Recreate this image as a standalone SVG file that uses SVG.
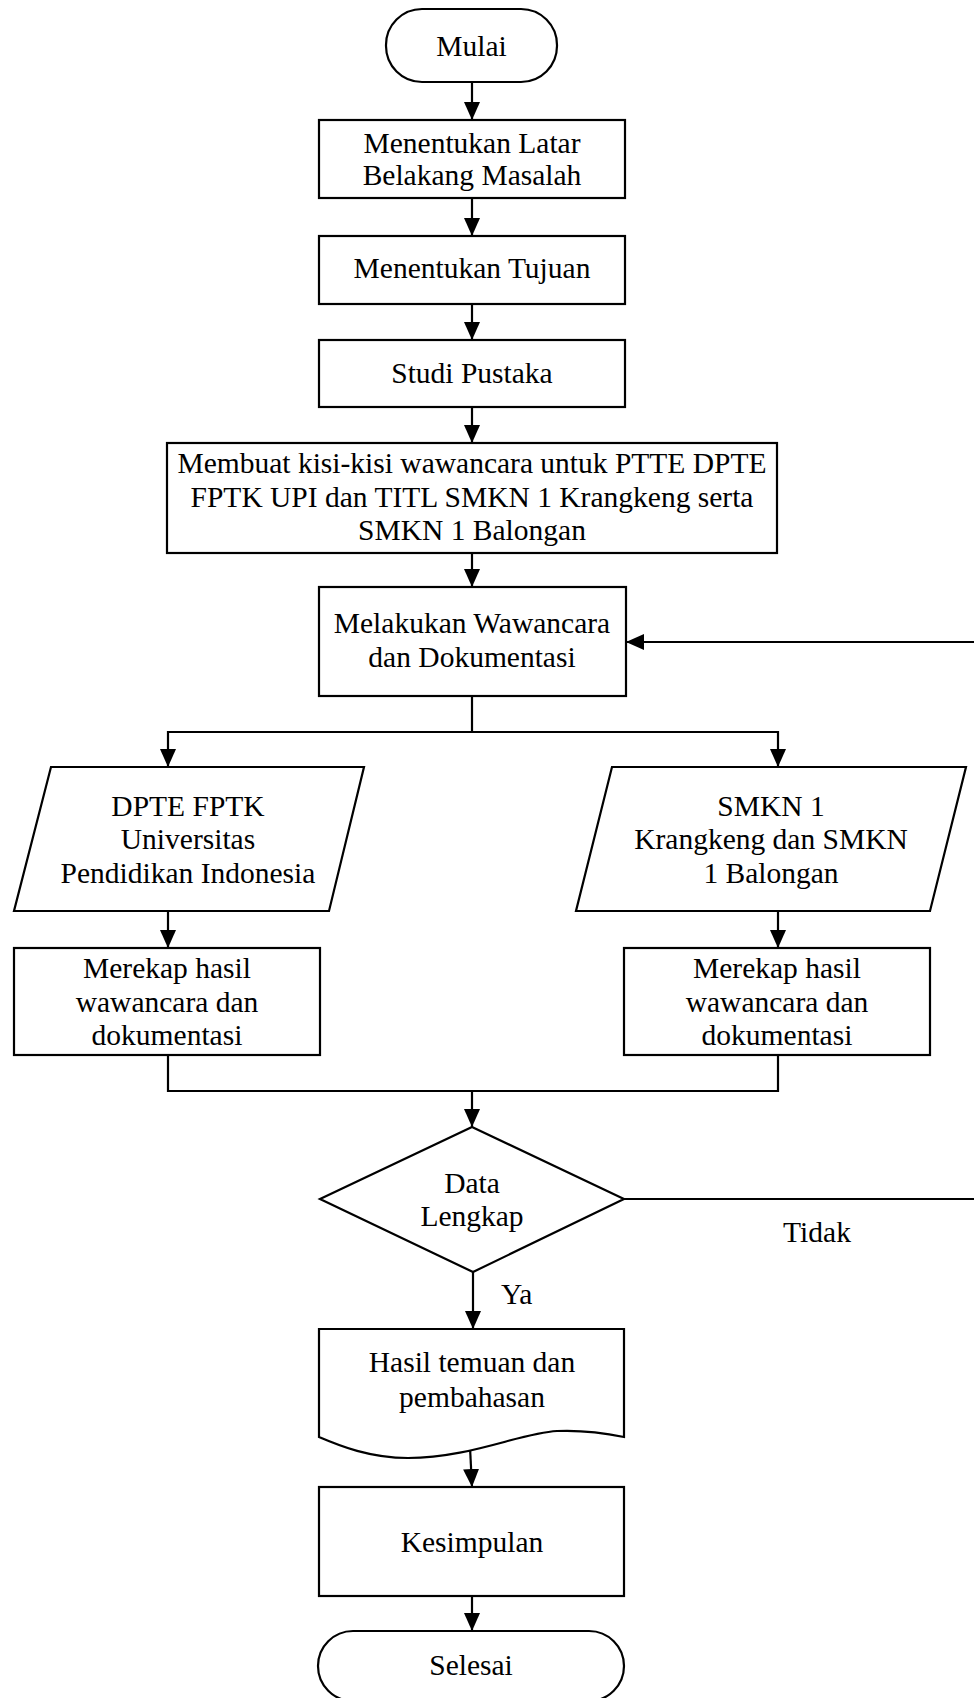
<svg xmlns="http://www.w3.org/2000/svg" width="974" height="1698" viewBox="0 0 974 1698">
<style>
.s{fill:#fff;stroke:#000;stroke-width:2.2}
.c{fill:none;stroke:#000;stroke-width:2.2}
text{font-family:"Liberation Serif","Times New Roman",serif;font-size:29.5px;fill:#000;text-anchor:middle}
</style>
<defs>
<marker id="ah" markerUnits="userSpaceOnUse" markerWidth="18" markerHeight="16" viewBox="0 0 18 16" refX="18" refY="8" orient="auto">
<path d="M0,0 L18,8 L0,16 Z" fill="#000"/>
</marker>
</defs>
<rect width="974" height="1698" fill="#fff"/>
<g id="connectors">
<line class="c" x1="472" y1="82" x2="472" y2="120" marker-end="url(#ah)"/>
<line class="c" x1="472" y1="198" x2="472" y2="236" marker-end="url(#ah)"/>
<line class="c" x1="472" y1="304" x2="472" y2="340" marker-end="url(#ah)"/>
<line class="c" x1="472" y1="407" x2="472" y2="443" marker-end="url(#ah)"/>
<line class="c" x1="472" y1="553" x2="472" y2="587" marker-end="url(#ah)"/>
<path class="c" d="M472,696 V732"/>
<path class="c" d="M472,732 H168 V767" marker-end="url(#ah)"/>
<path class="c" d="M472,732 H778 V767" marker-end="url(#ah)"/>
<line class="c" x1="168" y1="911" x2="168" y2="948" marker-end="url(#ah)"/>
<line class="c" x1="778" y1="911" x2="778" y2="948" marker-end="url(#ah)"/>
<path class="c" d="M168,1055 V1091 H778 V1055"/>
<line class="c" x1="472" y1="1091" x2="472" y2="1127" marker-end="url(#ah)"/>
<line class="c" x1="473" y1="1272" x2="473" y2="1329" marker-end="url(#ah)"/>
<line class="c" x1="470" y1="1447" x2="472" y2="1487" marker-end="url(#ah)"/>
<line class="c" x1="472" y1="1596" x2="472" y2="1631" marker-end="url(#ah)"/>
<line class="c" x1="624" y1="1199" x2="974" y2="1199"/>
<line class="c" x1="974" y1="642" x2="626" y2="642" marker-end="url(#ah)"/>
<text x="817" y="1242">Tidak</text>
<text x="501" y="1304" style="text-anchor:start">Ya</text>
</g>
<g id="mulai">
<rect class="s" x="386" y="9" width="171" height="73" rx="36"/>
<text x="471.5" y="56">Mulai</text>
</g>
<g id="latar">
<rect class="s" x="319" y="120" width="306" height="78"/>
<text x="472" y="153">Menentukan Latar</text>
<text x="472" y="185">Belakang Masalah</text>
</g>
<g id="tujuan">
<rect class="s" x="319" y="236" width="306" height="68"/>
<text x="472" y="278">Menentukan Tujuan</text>
</g>
<g id="studi">
<rect class="s" x="319" y="340" width="306" height="67"/>
<text x="472" y="383">Studi Pustaka</text>
</g>
<g id="kisi">
<rect class="s" x="167" y="443" width="610" height="110"/>
<text x="472" y="473">Membuat kisi-kisi wawancara untuk PTTE DPTE</text>
<text x="472" y="507">FPTK UPI dan TITL SMKN 1 Krangkeng serta</text>
<text x="472" y="540">SMKN 1 Balongan</text>
</g>
<g id="wawancara">
<rect class="s" x="319" y="587" width="307" height="109"/>
<text x="472" y="633">Melakukan Wawancara</text>
<text x="472" y="667">dan Dokumentasi</text>
</g>
<g id="dpte">
<polygon class="s" points="51,767 364,767 329,911 14,911"/>
<text x="188" y="816">DPTE FPTK</text>
<text x="188" y="849">Universitas</text>
<text x="188" y="883">Pendidikan Indonesia</text>
</g>
<g id="smkn">
<polygon class="s" points="612,767 966,767 930,911 576,911"/>
<text x="771" y="816">SMKN 1</text>
<text x="771" y="849">Krangkeng dan SMKN</text>
<text x="771" y="883">1 Balongan</text>
</g>
<g id="rekap1">
<rect class="s" x="14" y="948" width="306" height="107"/>
<text x="167" y="978">Merekap hasil</text>
<text x="167" y="1012">wawancara dan</text>
<text x="167" y="1045">dokumentasi</text>
</g>
<g id="rekap2">
<rect class="s" x="624" y="948" width="306" height="107"/>
<text x="777" y="978">Merekap hasil</text>
<text x="777" y="1012">wawancara dan</text>
<text x="777" y="1045">dokumentasi</text>
</g>
<g id="lengkap">
<polygon class="s" points="472,1127 624,1199 473,1272 320,1199"/>
<text x="472" y="1193">Data</text>
<text x="472" y="1226">Lengkap</text>
</g>
<g id="hasil">
<path class="s" d="M319,1329 H624 V1437 C600,1432 580,1430 557,1431 C520,1433 470,1458 408,1458 C370,1458 340,1446 319,1437 Z"/>
<text x="472" y="1372">Hasil temuan dan</text>
<text x="472" y="1407">pembahasan</text>
</g>
<g id="kesimpulan">
<rect class="s" x="319" y="1487" width="305" height="109"/>
<text x="472" y="1552">Kesimpulan</text>
</g>
<g id="selesai">
<rect class="s" x="318" y="1631" width="306" height="70" rx="35"/>
<text x="471" y="1675">Selesai</text>
</g>
</svg>
